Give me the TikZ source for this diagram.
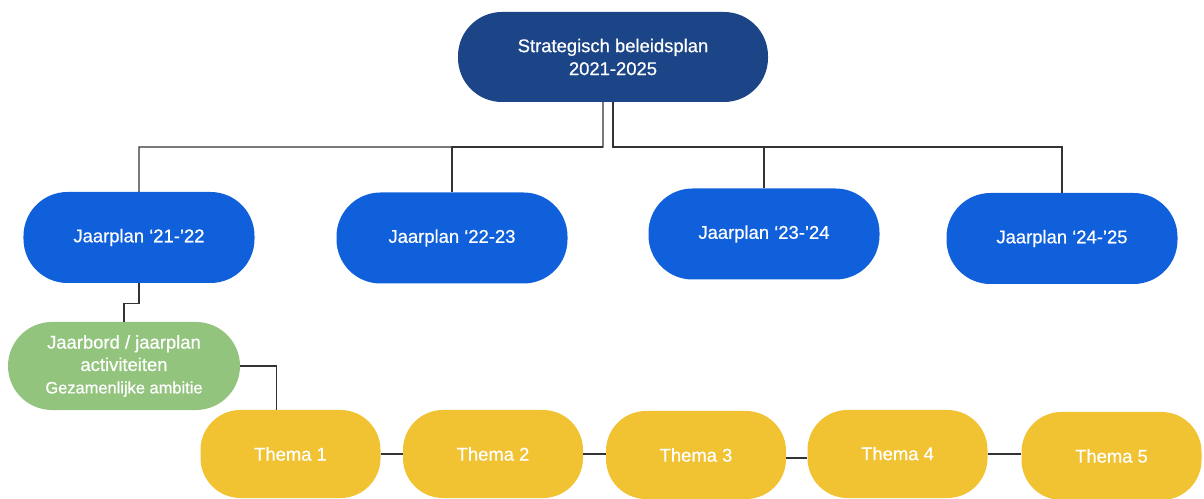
\documentclass[tikz,border=0pt]{standalone}
\usepackage{fontspec}
\setmainfont{Liberation Sans}[FakeBold=0.6]
\definecolor{topblue}{HTML}{1C4587}
\definecolor{planblue}{HTML}{1060DC}
\definecolor{boardgreen}{HTML}{93C47D}
\definecolor{themeyellow}{HTML}{F1C232}
\definecolor{linegray}{HTML}{333333}
\begin{document}
\begin{tikzpicture}[x=1bp,y=-1bp,
  box/.style={rectangle,rounded corners=44bp,text=white,align=center,inner sep=0pt,font=\fontsize{18.5}{23}\selectfont},
  topbox/.style={box,fill=topblue,minimum width=310bp,minimum height=90bp},
  planbox/.style={box,fill=planblue,minimum width=231bp,minimum height=91bp},
  boardbox/.style={box,fill=boardgreen,minimum width=232bp,minimum height=88bp,font=\fontsize{18.5}{22.5}\selectfont},
  themebox/.style={box,fill=themeyellow,rounded corners=40bp,minimum width=180bp,minimum height=88bp},
  conn/.style={draw=linegray,line width=1.3bp}]
\useasboundingbox (0,0) rectangle (1204,499);
\node[topbox] (top) at (613,57) {Strategisch beleidsplan\\2021-2025};
\node[planbox] (J1) at (139,237.5) {Jaarplan ‘21-’22};
\node[planbox] (J2) at (452,238) {Jaarplan ‘22-23};
\node[planbox] (J3) at (764,234) {Jaarplan ‘23-’24};
\node[planbox] (J4) at (1062,238.5) {Jaarplan ‘24-’25};
\node[boardbox] (G) at (124,366) {Jaarbord / jaarplan\\activiteiten\\{\fontsize{16.5}{22.5}\selectfont Gezamenlijke ambitie}};
\node[themebox] (T1) at (290.5,454) {Thema 1};
\node[themebox] (T2) at (493,454) {Thema 2};
\node[themebox] (T3) at (696,455) {\raisebox{-2bp}{Thema 3}};
\node[themebox] (T4) at (897.5,454) {\raisebox{1bp}{Thema 4}};
\node[themebox] (T5) at (1111.5,456) {Thema 5};
\coordinate (busL) at (603,147);
\coordinate (busR) at (613,147);
\draw[conn] ([xshift=-10bp]top.south) -- (busL) -| (J1.north);
\draw[conn] (busL) -| (J2.north);
\draw[conn] (top.south) -- (busR) -| (J4.north);
\draw[conn] (busR) -| (J3.north);
\draw[conn] (J1.south) -- ++(0,20) -| (G.north);
\draw[conn] (G.east) -| ([xshift=-14bp]T1.north);
\draw[conn] (T1.east) -- (T1.east -| T2.west);
\draw[conn] (T2.east) -- (T2.east -| T3.west);
\draw[conn] ([yshift=-3bp]T3.east) -- ([yshift=-3bp]T3.east -| T4.west);
\draw[conn] (T4.east) -- (T4.east -| T5.west);
\end{tikzpicture}
\end{document}
